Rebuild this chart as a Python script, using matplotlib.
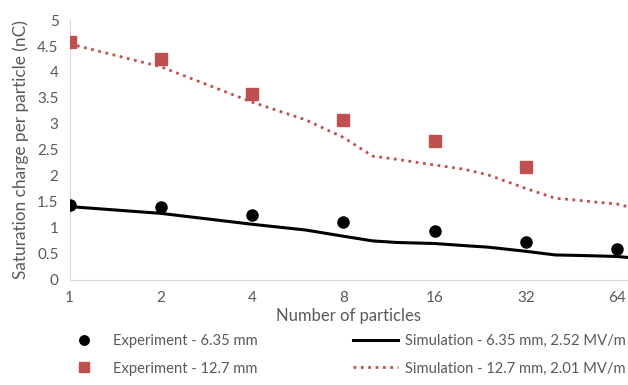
import matplotlib
matplotlib.use('Agg')
import matplotlib.pyplot as plt

plt.rcParams['font.family'] = ['Lato', 'DejaVu Sans']

# measured points
n_exp = [1, 2, 4, 8, 16, 32, 64]
exp_635 = [1.44, 1.40, 1.25, 1.12, 0.94, 0.73, 0.60]
n_exp_127 = [1, 2, 4, 8, 16, 32]
exp_127 = [4.58, 4.25, 3.58, 3.08, 2.67, 2.17]

# simulation curves
n_sim = [1, 2, 4, 6, 8, 10, 12, 16, 20, 24, 32, 40, 48, 56, 64, 70]
sim_635 = [1.41, 1.28, 1.07, 0.96, 0.84, 0.75, 0.72, 0.70, 0.66, 0.63, 0.55, 0.48, 0.47, 0.46, 0.45, 0.43]
sim_127 = [4.54, 4.10, 3.42, 3.08, 2.74, 2.38, 2.32, 2.21, 2.13, 2.02, 1.76, 1.57, 1.53, 1.49, 1.46, 1.40]

xticks = [1, 2, 4, 8, 16, 32, 64]

gray = '#595959'
red = '#C0504D'

fig = plt.figure(figsize=(6.28, 3.85), dpi=100)
ax = fig.add_axes([0.111, 0.273, 0.889, 0.675])

ln1, = ax.plot(n_exp, exp_635, 'o', color='black', markersize=8, label='Experiment - 6.35 mm', zorder=3)
ln2, = ax.plot(n_exp_127, exp_127, 's', color=red, markersize=8, label='Experiment - 12.7 mm', zorder=3)
ln3, = ax.plot(n_sim, sim_635, '-', color='black', lw=2.2, label='Simulation - 6.35 mm, 2.52 MV/m')
ln4, = ax.plot(n_sim, sim_127, ':', color=red, lw=2.0, label='Simulation - 12.7 mm, 2.01 MV/m')

ax.set_xscale('log', base=2)
ax.set_xlim(1, 69.5)
ax.set_xticks(xticks)
ax.set_xticklabels([str(v) for v in xticks])
ax.minorticks_off()
ax.set_ylim(0, 5)
ax.set_yticks([0, 0.5, 1, 1.5, 2, 2.5, 3, 3.5, 4, 4.5, 5])
ax.set_yticklabels(['0', '0.5', '1', '1.5', '2', '2.5', '3', '3.5', '4', '4.5', '5'])
ax.tick_params(length=0, labelsize=11, colors=gray, pad=8)
ax.spines['top'].set_visible(False)
ax.spines['right'].set_visible(False)
ax.spines['left'].set_color('#D9D9D9')
ax.spines['bottom'].set_color('#D9D9D9')
ax.set_xlabel('Number of particles', fontsize=12, color=gray, labelpad=2)
ax.set_ylabel('Saturation charge per particle (nC)', fontsize=12.4, color=gray, labelpad=6)

fig.legend([ln1, ln2, ln3, ln4], [l.get_label() for l in [ln1, ln2, ln3, ln4]],
           ncol=2, loc='lower left', bbox_to_anchor=(0.077, -0.01), frameon=False,
           fontsize=10.6, labelcolor=gray, handlelength=3.06, columnspacing=6.45,
           handletextpad=0.45, labelspacing=0.9, markerscale=0.85)

plt.savefig('out.png', dpi=100)
